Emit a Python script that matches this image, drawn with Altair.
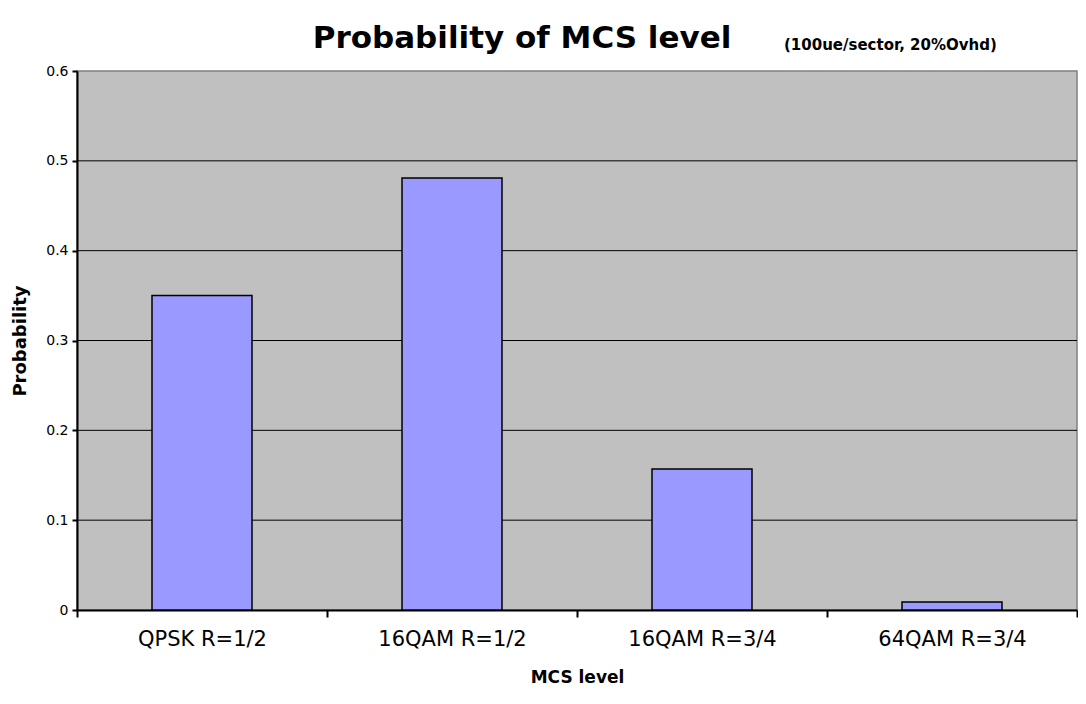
import altair as alt
import pandas as pd

categories = ["QPSK R=1/2", "16QAM R=1/2", "16QAM R=3/4", "64QAM R=3/4"]
probs = [0.35, 0.481, 0.157, 0.009]
grid_values = [0.1, 0.2, 0.3, 0.4, 0.5]
y_ticks = [0, 0.1, 0.2, 0.3, 0.4, 0.5, 0.6]
title_text = "Probability of MCS level"
subtitle_text = "(100ue/sector, 20%Ovhd)"

FONT = "DejaVu Sans"

df = pd.DataFrame({"mcs": categories, "prob": probs})
grid_df = pd.DataFrame({"g": grid_values})

y_scale = alt.Scale(domain=[0, 0.6], nice=False)
x_scale = alt.Scale(domain=categories, paddingInner=0, paddingOuter=0)

grid = alt.Chart(grid_df).mark_rule(color="black", strokeWidth=1).encode(
    y=alt.Y("g:Q", scale=y_scale)
)

bars = alt.Chart(df).mark_bar(
    width=alt.RelativeBandSize(0.4),
    color="#9999FF",
    stroke="black",
    strokeWidth=1.5,
).encode(
    x=alt.X(
        "mcs:N",
        scale=x_scale,
        sort=categories,
        axis=alt.Axis(
            title="MCS level",
            labelAngle=0,
            labelFontSize=21,
            labelFont=FONT,
            labelColor="black",
            labelPadding=11,
            tickBand="extent",
            tickSize=7,
            tickColor="black",
            tickWidth=2,
            domainColor="black",
            domainWidth=2,
            titleFont=FONT,
            titleFontSize=17,
            titleFontWeight="bold",
            titleColor="black",
            titlePadding=20,
        ),
    ),
    y=alt.Y(
        "prob:Q",
        scale=y_scale,
        axis=alt.Axis(
            title="Probability",
            values=y_ticks,
            format=".1~f",
            grid=False,
            labelFontSize=14,
            labelFont=FONT,
            labelColor="black",
            labelPadding=4,
            tickSize=5,
            tickColor="black",
            tickWidth=2,
            domainColor="black",
            domainWidth=2,
            titleFont=FONT,
            titleFontSize=18,
            titleFontWeight="bold",
            titleColor="black",
            titlePadding=16,
        ),
    ),
)

title = alt.Chart(alt.Data(values=[{}])).mark_text(
    font=FONT, fontSize=31, fontWeight="bold", align="center", baseline="alphabetic", color="black"
).encode(x=alt.value(445), y=alt.value(-23), text=alt.value(title_text))

subtitle = alt.Chart(alt.Data(values=[{}])).mark_text(
    font=FONT, fontSize=15, fontWeight="bold", align="left", baseline="alphabetic", color="black"
).encode(x=alt.value(707), y=alt.value(-21), text=alt.value(subtitle_text))

chart = alt.layer(grid, bars, title, subtitle).properties(
    width=1000,
    height=539,
    padding={"left": 69, "top": 63, "right": 1, "bottom": 82},
    autosize=alt.AutoSizeParams(type="none"),
).configure_view(
    fill="#C0C0C0", stroke="#808080", strokeWidth=1.5
)

chart.save("out.html", embed_options={"renderer": "svg", "actions": False})
